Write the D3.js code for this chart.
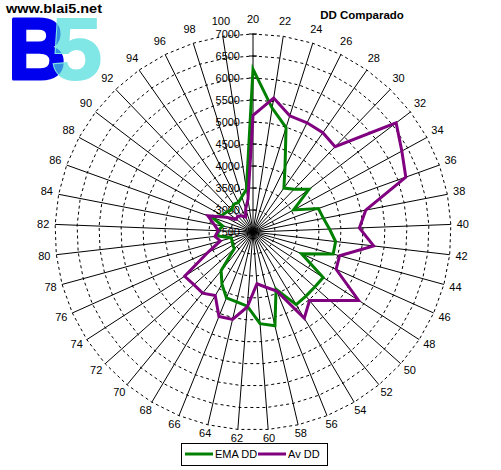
<!DOCTYPE html>
<meta charset="utf-8">
<style>
body {
  margin: 0;
  background: #fff;
  font-family: "Liberation Sans", Arial, sans-serif;
}
.spoke {
  stroke: #000;
  stroke-width: 1;
}
.ring {
  fill: none;
  stroke: #000;
  stroke-width: 1;
  stroke-dasharray: 3,3;
}
.axis-label, .cat-label, .legend text {
  font-size: 11px;
  fill: #000;
}
</style>
<body>
<script src="https://d3js.org/d3.v7.min.js"></script>
<script>

// categories (DD) round the radar
var categories = [20, 22, 24, 26, 28, 30, 32, 34, 36, 38, 40, 42, 44, 46, 48, 50, 52, 54, 56, 58,
                  60, 62, 64, 66, 68, 70, 72, 74, 76, 78, 80, 82, 84, 86, 88, 90, 92, 94, 96, 98, 100];

var emaDD = [6200, 5350, 4990, 4140, 3720, 3850, 4100, 3550, 4080, 4130,
             4240, 4390, 4390, 3710, 4400, 4380, 4390, 4420, 3900, 4690,
             4590, 4190, 4130, 4115, 3880, 3640, 3070, 3045, 3020, 3010,
             3300, 3300, 3200, 3490, 3300, 3250, 3200, 3270, 3250, 3340, 3480];

var avDD = [5150, 5580, 5270, 5270, 5260, 5190, 6590, 6350, 6190, 5110,
            4920, 5260, 4540, 4570, 5360, 4840, 4520, 4780, 3950, 3790,
            3680, 4210, 4540, 4570, 4180, 4300, 4300, 4350, 3615, 3270,
            3370, 3290, 3400, 3590, 3200, 2980, 3000, 2950, 2880, 3050, 3250];

var valueTicks = [2500, 3000, 3500, 4000, 4500, 5000, 5500, 6000, 6500, 7000];

var seriesNames = ["EMA DD", "Av DD"];
var seriesColors = ["#008000", "#800080"];

var width = 501, height = 470;
var cx = 253, cy = 232, R = 198;

var svg = d3.select("body").append("svg")
    .attr("width", width)
    .attr("height", height);

var rScale = d3.scaleLinear().domain([2500, 7000]).range([0, R]);
var angle = d3.scalePoint().domain(categories).range([0, 2 * Math.PI * (categories.length - 1) / categories.length]);

function pt(cat, v) {
  var a = angle(cat), r = rScale(v);
  return [cx + r * Math.sin(a), cy - r * Math.cos(a)];
}

// logo
var logo = svg.append("g").attr("class", "logo");
logo.append("text")
    .attr("x", 6).attr("y", 13)
    .style("font-family", "Arial, 'Liberation Sans', sans-serif")
    .style("font-weight", "bold")
    .style("font-size", "13.5px")
    .attr("textLength", 96)
    .attr("lengthAdjust", "spacingAndGlyphs")
    .attr("fill", "#000")
    .text("www.blai5.net");

var defs = svg.append("defs");
defs.append("clipPath").attr("id", "five-clip")
  .append("text")
    .attr("x", 51).attr("y", 79)
    .style("font-family", "'Liberation Sans', Arial, sans-serif")
    .style("font-weight", "bold")
    .style("font-size", "88px")
    .attr("textLength", 51)
    .attr("lengthAdjust", "spacingAndGlyphs")
    .text("5");

function bigB(fill, stroke) {
  return logo.append("text")
    .attr("x", 8).attr("y", 79)
    .style("font-family", "'Liberation Sans', Arial, sans-serif")
    .style("font-weight", "bold")
    .style("font-size", "88px")
    .attr("textLength", 58)
    .attr("lengthAdjust", "spacingAndGlyphs")
    .attr("fill", fill)
    .attr("stroke", stroke)
    .attr("stroke-width", 3)
    .attr("stroke-linejoin", "round")
    .text("B");
}
bigB("#0000ee", "#0000ee");
logo.append("text")
    .attr("x", 51).attr("y", 79)
    .style("font-family", "'Liberation Sans', Arial, sans-serif")
    .style("font-weight", "bold")
    .style("font-size", "88px")
    .attr("textLength", 51)
    .attr("lengthAdjust", "spacingAndGlyphs")
    .attr("fill", "#80e6e6")
    .attr("stroke", "#80e6e6")
    .attr("stroke-width", 2)
    .text("5");
bigB("#3590e0", "#3590e0").attr("clip-path", "url(#five-clip)");

// title
svg.append("text")
    .attr("x", 362).attr("y", 19)
    .attr("text-anchor", "middle")
    .style("font-size", "11.5px")
    .style("font-weight", "bold")
    .text("DD Comparado");

// grid rings (polygons)
var ring = d3.line().curve(d3.curveLinearClosed);
svg.append("g").selectAll("path")
    .data(valueTicks.slice(1))
  .enter().append("path")
    .attr("class", "ring")
    .attr("d", function(v) {
      return ring(categories.map(function(c) { return pt(c, v); }));
    });

// spokes
svg.append("g").selectAll("line")
    .data(categories)
  .enter().append("line")
    .attr("class", "spoke")
    .attr("x1", cx).attr("y1", cy)
    .attr("x2", function(c) { return pt(c, 7000)[0]; })
    .attr("y2", function(c) { return pt(c, 7000)[1]; });

// category labels
svg.append("g").selectAll("text")
    .data(categories)
  .enter().append("text")
    .attr("class", "cat-label")
    .attr("text-anchor", "middle")
    .attr("dy", "0.35em")
    .attr("x", function(c) { return cx + (R + 12) * Math.sin(angle(c)); })
    .attr("y", function(c) {
      var co = Math.cos(angle(c));
      return cy - (R + 9) * co - 6 * Math.max(co, 0);
    })
    .text(function(c) { return c; });

// value axis (on the first spoke)
var vAxis = svg.append("g");
vAxis.selectAll("line")
    .data(valueTicks)
  .enter().append("line")
    .attr("x1", cx - 4).attr("x2", cx + 4)
    .attr("y1", function(v) { return cy - rScale(v); })
    .attr("y2", function(v) { return cy - rScale(v); })
    .style("stroke", "#000");
vAxis.selectAll("text")
    .data(valueTicks)
  .enter().append("text")
    .attr("class", "axis-label")
    .attr("text-anchor", "end")
    .attr("dy", "0.35em")
    .attr("x", cx - 13)
    .attr("y", function(v) { return cy - rScale(v); })
    .text(function(v) { return v; });

// series
var series = [emaDD, avDD];
svg.append("g").selectAll("path")
    .data(series)
  .enter().append("path")
    .attr("d", function(s) {
      return ring(s.map(function(v, i) { return pt(categories[i], v); }));
    })
    .style("fill", "none")
    .style("stroke", function(d, i) { return seriesColors[i]; })
    .style("stroke-width", 3)
    .style("stroke-linejoin", "miter");

// legend
var legend = svg.append("g").attr("class", "legend");
legend.append("rect")
    .attr("x", 181.5).attr("y", 443.5)
    .attr("width", 146).attr("height", 22)
    .style("fill", "#fff")
    .style("stroke", "#000");
var items = legend.selectAll("g.item")
    .data(seriesNames)
  .enter().append("g")
    .attr("class", "item")
    .attr("transform", function(d, i) { return "translate(" + (185 + i * 73) + ",454)"; });
items.append("line")
    .attr("x1", 0).attr("x2", 28)
    .style("stroke", function(d, i) { return seriesColors[i]; })
    .style("stroke-width", 3);
items.append("text")
    .attr("x", 30).attr("dy", "0.35em")
    .text(function(d) { return d; });

</script>
